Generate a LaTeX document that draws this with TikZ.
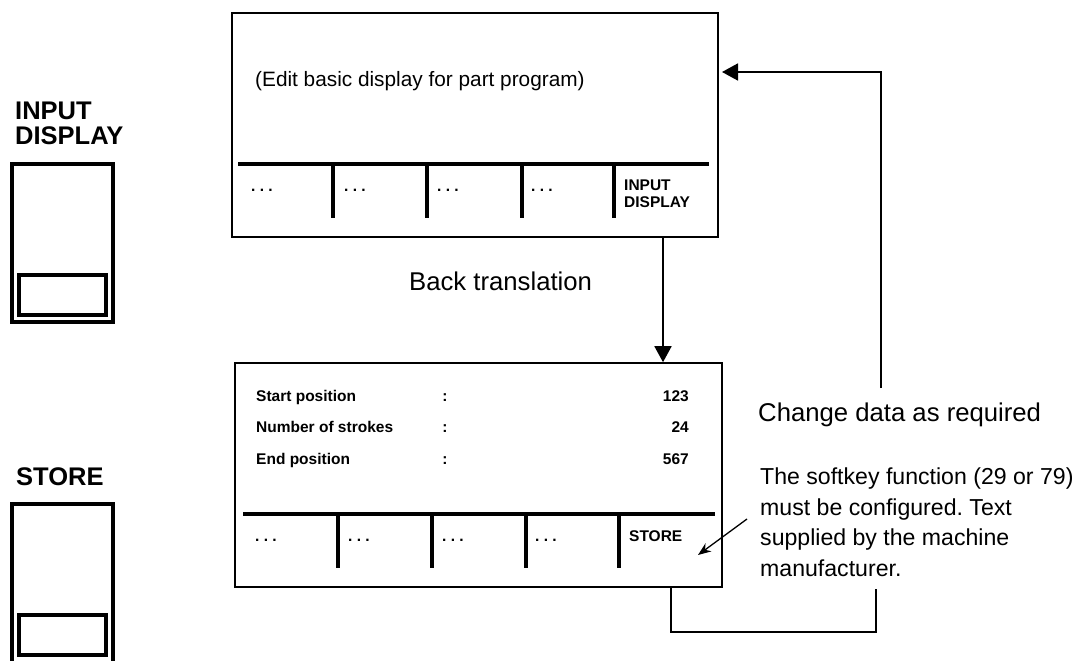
\documentclass[tikz,border=0pt]{standalone}
\usepackage{fontspec}
\setmainfont{Liberation Sans}
\usetikzlibrary{arrows.meta,calc}
\newcommand\fsz[2]{\fontsize{#1}{#2}\selectfont}
\frenchspacing
\begin{document}
\begin{tikzpicture}[x=1pt,y=-1pt,
  screen/.style={draw, line width=1.6pt, rectangle, inner sep=0pt},
  barline/.style={line width=4.3pt},
  keyline/.style={line width=4pt},
  conn/.style={line width=1.7pt},
  bigarrow/.style={conn, -{Triangle[length=16pt,width=17pt]}},
  thinarrow/.style={line width=1.3pt, -{Stealth[length=13pt,width=10pt]}},
  txt/.style={inner sep=0pt, anchor=base west},
  bigtxt/.style={txt, font=\fsz{25.7}{30}},
  bigbold/.style={inner sep=0pt, anchor=north west, align=left, font=\bfseries\fsz{25.5}{25}},
  keytxt/.style={inner sep=0pt, anchor=north west, align=left, font=\bfseries\fsz{15.5}{17.6}},
  smallb/.style={txt, font=\bfseries\fsz{15.5}{17.6}},
  dots/.style={txt, font=\bfseries\fsz{15.5}{17.6}},
]
\useasboundingbox (0,0) rectangle (1079,661);

% ---- left hard keys ----
\node[bigbold] (lblinput) at (15,102) {INPUT\\DISPLAY};
\draw[keyline] (12,163.5) rectangle (113,322);
\draw[keyline] (19.3,275.3) rectangle (106,315.3);

\node[bigbold] (lblstore) at (16,467.5) {STORE};
\draw[keyline] (12,661) -- (12,504) -- (113,504) -- (113,661);
\draw[keyline] (19.3,615.3) rectangle (106,655.3);

% ---- top screen ----
\node[screen, minimum width=486pt, minimum height=224pt] (scr1) at (475,125) {};
\node[txt, font=\fsz{20.8}{24}] (edit) at (255,87) {(Edit basic display for part program)};
\draw[barline] (238,164) -- (709.3,164);
\foreach \x in {333,427,522,614} \draw[barline] (\x,164) -- (\x,218.3);
\foreach \x/\n in {251/a,344/b,437/c,531/d} \node[dots] (d1\n) at (\x,191) {.\ .\ .};
\node[keytxt] (sk1) at (624,179.3) {INPUT\\DISPLAY};

% ---- bottom screen ----
\node[screen, minimum width=487pt, minimum height=224pt] (scr2) at (478.5,475) {};
\node[smallb] (r1) at (256,401) {Start position};
\node[smallb] (r2) at (256,432.7) {Number of strokes};
\node[smallb] (r3) at (256,464) {End position};
\foreach \y/\n in {401/a,432.7/b,464/c} \node[smallb, anchor=base] (c\n) at (445,\y) {:};
\node[smallb, anchor=base east] (v1) at (689,401) {123};
\node[smallb, anchor=base east] (v2) at (689,432.7) {24};
\node[smallb, anchor=base east] (v3) at (689,464) {567};
\draw[barline] (243,514) -- (715,514);
\foreach \x in {338,432,526,619} \draw[barline] (\x,514) -- (\x,568);
\foreach \x/\n in {255/a,348/b,442/c,535/d} \node[dots] (d2\n) at (\x,541) {.\ .\ .};
\node[smallb] (sk2) at (629,541) {STORE};

% ---- labels ----
\node[bigtxt] (back) at (409,290) {Back translation};
\node[bigtxt] (chg) at (758,421) {Change data as required};
\node[inner sep=0pt, anchor=north west, align=left, font=\fsz{23.1}{30.6}] (note) at (760,467.5)
  {The softkey function (29 or 79)\\must be configured. Text\\supplied by the machine\\manufacturer.};

% ---- connectors ----
\coordinate (ax) at (663,0);
\draw[bigarrow] (scr1.south -| ax) -- (scr2.north -| ax);

\coordinate (loopbot) at (881,388);
\coordinate (loopin) at (722,72);
\draw[bigarrow] (loopbot) |- (loopin);

\coordinate (brl) at (671,0);
\coordinate (brr) at (876,589);
\draw[conn] (scr2.south -| brl) -- ++(0,44.5) -| (brr);

\coordinate (pfrom) at (747,519);
\coordinate (pto) at (698,555);
\draw[thinarrow] (pfrom) -- (pto);
\end{tikzpicture}
\end{document}
